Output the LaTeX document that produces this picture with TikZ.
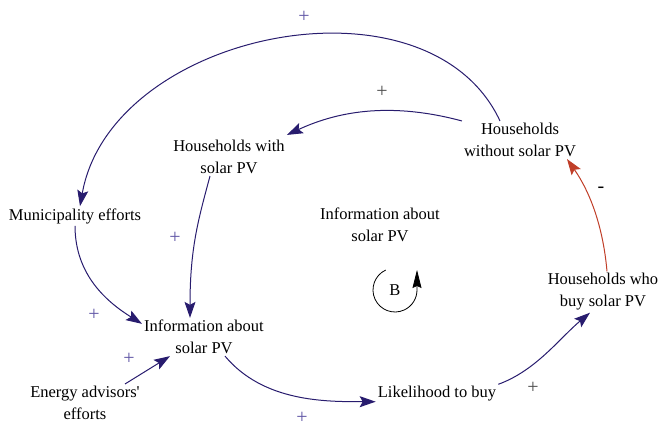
\documentclass[tikz,border=0pt]{standalone}
\usepackage{fontspec}
\setmainfont{Liberation Serif}
\usepackage{tikz}
\usetikzlibrary{arrows.meta}
\definecolor{linkblue}{RGB}{40,28,110}
\definecolor{plusblue}{RGB}{95,85,165}
\definecolor{linkred}{RGB}{192,62,40}

\begin{document}
\begin{tikzpicture}[x=1pt,y=1pt,
		var/.style={align=center,inner sep=2pt,font=\rmfamily\fontsize{16.5}{22}\selectfont},
		link/.style={draw=linkblue,line width=1pt,-{Stealth[length=16pt,width=11pt,inset=3pt]}},
		neglink/.style={link,draw=linkred},
		pol/.style={text=plusblue,inner sep=0pt,font=\rmfamily\fontsize{20}{20}\selectfont},
		loopline/.style={draw=black,line width=0.8pt,-{Stealth[length=18pt,width=9pt,inset=2pt]}}]
		\useasboundingbox (0,0) rectangle (665,427);
		% variables
		\node(without) [var] at (520,287) {Households\\without solar PV};
		\node(with) [var] at (229,270) {Households with\\solar PV};
		\node(muni) [var] at (75,211) {Municipality efforts};
		\node(loopname) [var] at (380,202) {Information about\\solar PV};
		\node(info) [var] at (204,90) {Information about\\solar PV};
		\node(energy) [var] at (85,24) {Energy advisors\textquotesingle\\efforts};
		\node(likely) [var] at (437,33) {Likelihood to buy};
		\node(buy) [var] at (603,135) {Households who\\buy solar PV};
		\node(B) [var] at (395,137) {B};
		% links
		\draw[link] ([xshift=-20pt]without.north) .. controls +(115:170) and +(80:178) .. ([xshift=5pt]muni.north);
		\draw[link] (without.north west) .. controls +(165:70) and +(25:60) .. ([yshift=3pt]with.north east);
		\draw[link] ([xshift=-19pt]with.south) .. controls +(-105:45) and +(90:70) .. ([xshift=-14pt]info.north);
		\draw[link] (muni.south) .. controls +(-90:50) and +(148:40) .. ([yshift=-6pt]info.north west);
		\draw[link] ([xshift=40pt]energy.north) -- ([xshift=28pt]info.south west);
		\draw[link] ([xshift=21pt]info.south) .. controls +(-50:60) and +(180:50) .. ([yshift=2pt]likely.south west);
		\draw[link] (likely.north east) .. controls +(20:40) and +(220:40) .. ([xshift=-13pt]buy.south);
		\draw[neglink] ([xshift=4pt]buy.north) .. controls +(95:45) and +(-55:40) .. ([xshift=47pt]without.south);
		% loop
		\draw[loopline] (B) ++(115:22) arc[start angle=115,end angle=360,radius=22] -- ++(0,20);
		% polarities
		\node(p1) [pol] at (304,410) {+};
		\node(p2) [pol,text=black!70] at (382,335) {+};
		\node(p3) [pol] at (175,189) {+};
		\node(p4) [pol] at (94,112) {+};
		\node(p5) [pol] at (129,68) {+};
		\node(p6) [pol] at (302,9) {+};
		\node(p7) [pol,text=black!70] at (533,39) {+};
		\node(m1) [pol,text=black] at (601,237) {-};
	\end{tikzpicture}
\end{document}
